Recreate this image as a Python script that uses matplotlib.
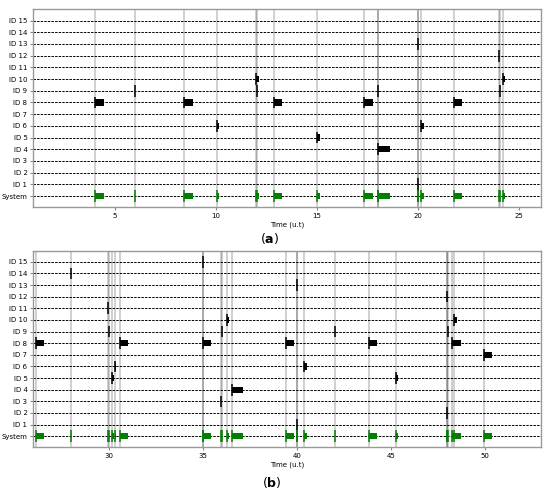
#!/usr/bin/env python3

import matplotlib
matplotlib.use("Agg")
import matplotlib.pyplot as plt
import numpy as np

plt.rcParams['font.family'] = 'DejaVu Sans'
plt.rcParams['mathtext.fontset'] = 'dejavusans'

row_labels = ['System'] + ['ID %d' % i for i in range(1, 16)]

# panel (a): node id, start time, duration (u.t)
a_ids = [8, 9, 8, 6, 10, 9, 8, 5, 8, 9, 4, 13, 1, 6, 8, 12, 9, 10]
a_start = [4.0, 6.0, 8.43, 10.03, 12.0, 12.02, 12.87, 15.03, 17.34, 18.03,
           18.05, 20.0, 20.0, 20.15, 21.78, 24.03, 24.06, 24.2]
a_dur = [0.45, 0, 0.43, 0.12, 0.14, 0, 0.42, 0.12, 0.42, 0, 0.56, 0, 0, 0.15,
         0.43, 0, 0, 0.12]

# panel (b)
b_ids = [8, 14, 11, 9, 5, 6, 8, 15, 8, 3, 9, 10, 4, 8, 13, 1, 6, 9, 8, 5,
         12, 2, 9, 8, 10, 7]
b_start = [26.14, 28.0, 29.97, 30.02, 30.15, 30.3, 30.57, 35.0, 35.0, 35.98,
           36.03, 36.28, 36.56, 39.42, 40.0, 40.02, 40.39, 42.04, 43.85,
           45.25, 47.98, 48.0, 48.02, 48.25, 48.36, 49.97]
b_dur = [0.42, 0, 0, 0, 0.1, 0.08, 0.42, 0, 0.43, 0, 0, 0.1, 0.57, 0.42, 0, 0,
         0.13, 0, 0.42, 0.12, 0, 0, 0, 0.46, 0.14, 0.43]


def draw_events(ax, ids, start, dur, xlim):
    for r in range(16):
        ax.axhline(r, color='k', lw=0.7, ls=(0, (2.5, 1.2)), zorder=1)
    for i, s, d in zip(ids, start, dur):
        ax.axvline(s, color='k', alpha=0.2, lw=1.3, zorder=0)
        for row, col in ((i, 'k'), (0, 'green')):
            ax.plot([s, s], [row - 0.5, row + 0.5], color=col, lw=1.1,
                    solid_capstyle='butt', zorder=3)
            if d > 0:
                ax.barh(row, d, left=s, height=0.55, color=col, zorder=3)
    ax.set_xlim(xlim)
    ax.set_ylim(-0.95, 15.95)
    ax.set_yticks(range(16))
    ax.set_yticklabels(row_labels)
    ax.set_xlabel('Time (u.t)', fontsize=5, labelpad=2)
    ax.tick_params(labelsize=5, length=2, pad=2, color='#888888')
    for sp in ax.spines.values():
        sp.set_color('#999999')
        sp.set_linewidth(1.0)


fig = plt.figure(figsize=(5.5, 4.92), dpi=100)
ax1 = fig.add_axes([0.06, 0.579, 0.9236, 0.4017])
ax2 = fig.add_axes([0.06, 0.0909, 0.9236, 0.3995])

draw_events(ax1, a_ids, a_start, a_dur, (0.94, 26.1))
draw_events(ax2, b_ids, b_start, b_dur, (25.96, 52.98))

fig.text(0.49, 1 - 238 / 492, r'($\mathbf{a}$)', ha='center', va='center',
         fontsize=9)
fig.text(0.495, 1 - 482 / 492, r'($\mathbf{b}$)', ha='center', va='center',
         fontsize=9)

fig.savefig('out.png', dpi=100)
